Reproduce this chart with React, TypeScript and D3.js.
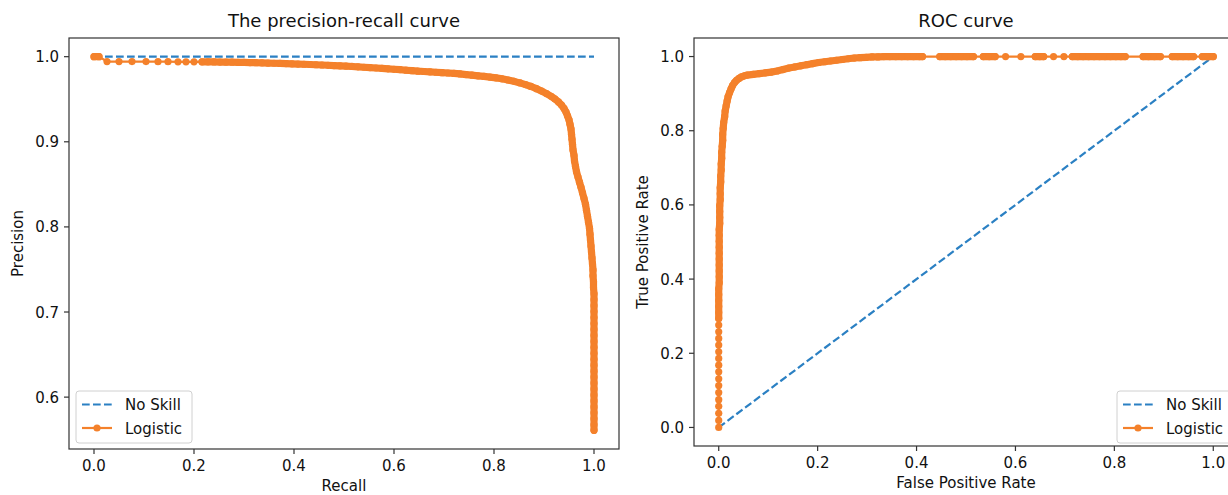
import React from 'react';
import * as d3 from 'd3';

// Precision-recall curve of the logistic model
const PR_RECALL = [
  0.000, 0.010, 0.026, 0.050, 0.076, 0.104, 0.128, 0.148, 0.168, 0.184, 0.200, 0.216,
  0.228, 0.240, 0.252, 0.264, 0.276, 0.288, 0.300, 0.312, 0.324, 0.336, 0.348, 0.360,
  0.372, 0.384, 0.396, 0.408, 0.420, 0.432, 0.444, 0.456, 0.468, 0.480, 0.492, 0.504,
  0.516, 0.528, 0.540, 0.552, 0.564, 0.576, 0.588, 0.600, 0.612, 0.624, 0.636, 0.648,
  0.660, 0.672, 0.684, 0.696, 0.708, 0.720, 0.732, 0.744, 0.756, 0.768, 0.780, 0.792,
  0.804, 0.816, 0.828, 0.840, 0.852, 0.863, 0.874, 0.885, 0.895, 0.905, 0.914, 0.922,
  0.929, 0.935, 0.940, 0.944, 0.947, 0.950, 0.952, 0.954, 0.955, 0.956, 0.957, 0.958,
  0.960, 0.961, 0.963, 0.965, 0.968, 0.971, 0.974, 0.977, 0.980, 0.983, 0.985, 0.987,
  0.989, 0.991, 0.992, 0.993, 0.994, 0.995, 0.996, 0.997, 0.998, 0.998, 0.999, 0.999,
  1.000, 1.000, 1.000, 1.000, 1.000, 1.000, 1.000, 1.000, 1.000, 1.000, 1.000, 1.000,
  1.000, 1.000, 1.000, 1.000, 1.000, 1.000, 1.000, 1.000, 1.000, 1.000, 1.000, 1.000,
];
const PR_PRECISION = [
  1.0000, 1.0000, 0.9943, 0.9943, 0.9942, 0.9942, 0.9941, 0.9941, 0.9940, 0.9940, 0.9940, 0.9939,
  0.9939, 0.9938, 0.9937, 0.9936, 0.9935, 0.9934, 0.9932, 0.9931, 0.9929, 0.9927, 0.9925, 0.9923,
  0.9921, 0.9918, 0.9916, 0.9913, 0.9911, 0.9908, 0.9905, 0.9902, 0.9899, 0.9896, 0.9893, 0.9889,
  0.9885, 0.9881, 0.9876, 0.9872, 0.9867, 0.9862, 0.9857, 0.9852, 0.9847, 0.9841, 0.9836, 0.9830,
  0.9826, 0.9822, 0.9817, 0.9812, 0.9808, 0.9803, 0.9797, 0.9790, 0.9783, 0.9775, 0.9768, 0.9760,
  0.9751, 0.9740, 0.9726, 0.9710, 0.9692, 0.9672, 0.9650, 0.9624, 0.9596, 0.9566, 0.9535, 0.9502,
  0.9468, 0.9432, 0.9392, 0.9350, 0.9305, 0.9258, 0.9205, 0.9150, 0.9090, 0.9030, 0.8970, 0.8905,
  0.8840, 0.8775, 0.8710, 0.8648, 0.8585, 0.8525, 0.8465, 0.8400, 0.8335, 0.8265, 0.8195, 0.8125,
  0.8055, 0.7985, 0.7915, 0.7845, 0.7775, 0.7705, 0.7635, 0.7565, 0.7495, 0.7425, 0.7355, 0.7285,
  0.7215, 0.7145, 0.7075, 0.7005, 0.6935, 0.6865, 0.6795, 0.6725, 0.6655, 0.6585, 0.6515, 0.6445,
  0.6375, 0.6305, 0.6235, 0.6165, 0.6095, 0.6025, 0.5955, 0.5885, 0.5815, 0.5745, 0.5675, 0.5610,
];

// ROC curve of the logistic model
const ROC_FPR = [
  0.000, 0.000, 0.000, 0.000, 0.000, 0.000, 0.000, 0.000, 0.000, 0.000, 0.000, 0.000,
  0.000, 0.000, 0.000, 0.000, 0.000,
  0.000, 0.000, 0.000, 0.000, 0.000, 0.001, 0.001, 0.001, 0.001, 0.001, 0.001, 0.001,
  0.001, 0.001, 0.001, 0.002, 0.002, 0.002, 0.002, 0.003, 0.003, 0.003, 0.004, 0.004,
  0.005, 0.005, 0.006, 0.006, 0.007, 0.008, 0.008, 0.009, 0.010, 0.012, 0.013, 0.015,
  0.017, 0.019, 0.022, 0.025, 0.028, 0.032, 0.036, 0.041, 0.046, 0.052, 0.058,
  0.070, 0.082, 0.094, 0.106, 0.118, 0.130, 0.142, 0.154, 0.166, 0.178, 0.190, 0.202,
  0.214, 0.226, 0.238, 0.250, 0.262, 0.274, 0.286, 0.298, 0.310, 0.322, 0.334, 0.346,
  0.358, 0.370, 0.382, 0.394, 0.406, 0.412,
  0.447, 0.458, 0.469, 0.480, 0.491, 0.502, 0.515,
  0.535, 0.547, 0.559,
  0.580,
  0.611,
  0.640, 0.649, 0.657,
  0.677,
  0.698,
  0.715, 0.726, 0.737, 0.748, 0.759, 0.770, 0.781, 0.792, 0.803, 0.813, 0.822,
  0.858, 0.869, 0.881, 0.893,
  0.917, 0.928, 0.939, 0.950, 0.960,
  0.978, 0.989, 1.000,
];
const ROC_TPR = [
  0.000, 0.019, 0.038, 0.057, 0.075, 0.094, 0.113, 0.131, 0.150, 0.168, 0.186, 0.204,
  0.222, 0.240, 0.258, 0.276, 0.294,
  0.310, 0.326, 0.342, 0.358, 0.374, 0.390, 0.406, 0.422, 0.438, 0.454, 0.470, 0.486,
  0.502, 0.518, 0.534, 0.550, 0.566, 0.582, 0.598, 0.614, 0.630, 0.646, 0.662, 0.678,
  0.694, 0.710, 0.726, 0.742, 0.758, 0.774, 0.790, 0.806, 0.822, 0.838, 0.853, 0.867,
  0.880, 0.892, 0.903, 0.913, 0.922, 0.930, 0.936, 0.941, 0.945, 0.948, 0.950,
  0.952, 0.954, 0.956, 0.958, 0.961, 0.965, 0.969, 0.972, 0.975, 0.978, 0.981, 0.984,
  0.986, 0.988, 0.990, 0.992, 0.994, 0.996, 0.997, 0.998, 0.999, 0.999, 1.000, 1.000,
  1.000, 1.000, 1.000, 1.000, 1.000, 1.000,
  1.000, 1.000, 1.000, 1.000, 1.000, 1.000, 1.000,
  1.000, 1.000, 1.000,
  1.000,
  1.000,
  1.000, 1.000, 1.000,
  1.000,
  1.000,
  1.000, 1.000, 1.000, 1.000, 1.000, 1.000, 1.000, 1.000, 1.000, 1.000, 1.000,
  1.000, 1.000, 1.000, 1.000,
  1.000, 1.000, 1.000, 1.000, 1.000,
  1.000, 1.000, 1.000,
];

// Baselines
const PR_NO_SKILL_X = [0, 1];
const PR_NO_SKILL_Y = [1, 1];
const ROC_NO_SKILL_X = [0, 1];
const ROC_NO_SKILL_Y = [0, 1];

const PR_X_TICKS = [0, 0.2, 0.4, 0.6, 0.8, 1.0];
const PR_Y_TICKS = [0.6, 0.7, 0.8, 0.9, 1.0];
const ROC_X_TICKS = [0, 0.2, 0.4, 0.6, 0.8, 1.0];
const ROC_Y_TICKS = [0, 0.2, 0.4, 0.6, 0.8, 1.0];

const SERIES_LABELS = ['No Skill', 'Logistic'];

const BLUE = '#2b80c3';
const ORANGE = '#f4812b';
const INK = '#111';
const FONT = '"DejaVu Sans", Verdana, sans-serif';
const MARKER_R = 3.6;
const MERGE_GAP = 6.5;
const TICK_FS = 15;
const TITLE_FS = 18;

type Pt = [number, number];

// Consecutive markers closer than the gap overlap into a solid band.
function overlappingRuns(pts: Pt[], gap: number): Pt[][] {
  const runs: Pt[][] = [];
  let cur: Pt[] = [pts[0]];
  for (let i = 1; i < pts.length; i++) {
    const d = Math.hypot(pts[i][0] - pts[i - 1][0], pts[i][1] - pts[i - 1][1]);
    if (d < gap) cur.push(pts[i]);
    else {
      if (cur.length > 1) runs.push(cur);
      cur = [pts[i]];
    }
  }
  if (cur.length > 1) runs.push(cur);
  return runs;
}

interface PanelProps {
  box: { left: number; right: number; top: number; bottom: number };
  xDomain: [number, number];
  yDomain: [number, number];
  xTicks: number[];
  yTicks: number[];
  title: string;
  xLabel: string;
  yLabel: string;
  yLabelX: number;
  skillX: number[];
  skillY: number[];
  modelX: number[];
  modelY: number[];
  legendX: number;
  clipId: string;
}

function Panel(p: PanelProps) {
  const { box } = p;
  const x = d3.scaleLinear().domain(p.xDomain).range([box.left, box.right]);
  const y = d3.scaleLinear().domain(p.yDomain).range([box.bottom, box.top]);
  const line = d3.line<Pt>().x((d) => d[0]).y((d) => d[1]);

  const skillPts: Pt[] = p.skillX.map((v, i) => [x(v), y(p.skillY[i])]);
  const modelPts: Pt[] = p.modelX.map((v, i) => [x(v), y(p.modelY[i])]);
  const runs = overlappingRuns(modelPts, MERGE_GAP);
  const cx = (box.left + box.right) / 2;
  const cy = (box.top + box.bottom) / 2;
  const tickLabelY = box.bottom + 22;

  const lg = { x: p.legendX, y: 391, w: 116, h: 52 };
  const rows = [lg.y + 13.5, lg.y + 37];

  return (
    <g>
      <defs>
        <clipPath id={p.clipId}>
          <rect x={box.left} y={box.top} width={box.right - box.left} height={box.bottom - box.top} />
        </clipPath>
      </defs>
      <rect x={box.left} y={box.top} width={box.right - box.left} height={box.bottom - box.top} fill="#fff" />
      <g clipPath={`url(#${p.clipId})`}>
        <path d={line(skillPts) ?? ''} fill="none" stroke={BLUE} strokeWidth={2.2} strokeDasharray="7.7 3.3" />
        <path d={line(modelPts) ?? ''} fill="none" stroke={ORANGE} strokeWidth={2.2} strokeLinejoin="round" />
        {runs.map((r, i) => (
          <path key={i} d={line(r) ?? ''} fill="none" stroke={ORANGE} strokeWidth={MARKER_R * 2}
            strokeLinejoin="round" strokeLinecap="round" />
        ))}
        {modelPts.map((d, i) => (
          <circle key={i} cx={d[0]} cy={d[1]} r={MARKER_R} fill={ORANGE} />
        ))}
      </g>
      <rect x={box.left} y={box.top} width={box.right - box.left} height={box.bottom - box.top}
        fill="none" stroke="#333" strokeWidth={1.2} />
      {p.xTicks.map((t) => (
        <g key={`x${t}`}>
          <line x1={x(t)} x2={x(t)} y1={box.bottom} y2={box.bottom + 5} stroke="#333" strokeWidth={1.2} />
          <text x={x(t)} y={tickLabelY} textAnchor="middle" fontSize={TICK_FS} fill={INK}>{t.toFixed(1)}</text>
        </g>
      ))}
      {p.yTicks.map((t) => (
        <g key={`y${t}`}>
          <line x1={box.left - 5} x2={box.left} y1={y(t)} y2={y(t)} stroke="#333" strokeWidth={1.2} />
          <text x={box.left - 10} y={y(t) + 5.5} textAnchor="end" fontSize={TICK_FS} fill={INK}>{t.toFixed(1)}</text>
        </g>
      ))}
      <text x={cx} y={box.top - 11} textAnchor="middle" fontSize={TITLE_FS} fill={INK}>{p.title}</text>
      <text x={cx} y={box.bottom + 41.5} textAnchor="middle" fontSize={TICK_FS} fill={INK}>{p.xLabel}</text>
      <text transform={`translate(${p.yLabelX},${cy}) rotate(-90)`} textAnchor="middle" fontSize={TICK_FS} fill={INK}>{p.yLabel}</text>

      <g>
        <rect x={lg.x} y={lg.y} width={lg.w} height={lg.h} rx={3} fill="#fff" fillOpacity={0.8}
          stroke="#d0d0d0" strokeWidth={1} />
        <line x1={lg.x + 6} x2={lg.x + 36} y1={rows[0]} y2={rows[0]} stroke={BLUE} strokeWidth={2.2}
          strokeDasharray="7.7 3.3" />
        <text x={lg.x + 49} y={rows[0] + 5.5} fontSize={TICK_FS} fill={INK}>{SERIES_LABELS[0]}</text>
        <line x1={lg.x + 6} x2={lg.x + 36} y1={rows[1]} y2={rows[1]} stroke={ORANGE} strokeWidth={2.2} />
        <circle cx={lg.x + 21} cy={rows[1]} r={MARKER_R} fill={ORANGE} />
        <text x={lg.x + 49} y={rows[1] + 5.5} fontSize={TICK_FS} fill={INK}>{SERIES_LABELS[1]}</text>
      </g>
    </g>
  );
}

function padded(lo: number, hi: number): [number, number] {
  const m = (hi - lo) * 0.05;
  return [lo - m, hi + m];
}

export default function App() {
  const prY = padded(d3.min(PR_PRECISION) ?? 0, d3.max(PR_PRECISION) ?? 1);
  return (
    <svg width={1228} height={495} style={{ position: 'absolute', left: 0, top: 0, background: '#fff' }}
      fontFamily={FONT}>
      <rect width={1228} height={495} fill="#fff" />
      <Panel
        box={{ left: 69, right: 619, top: 38, bottom: 449 }}
        xDomain={padded(0, 1)}
        yDomain={prY}
        xTicks={PR_X_TICKS}
        yTicks={PR_Y_TICKS}
        title="The precision-recall curve"
        xLabel="Recall"
        yLabel="Precision"
        yLabelX={23}
        skillX={PR_NO_SKILL_X}
        skillY={PR_NO_SKILL_Y}
        modelX={PR_RECALL}
        modelY={PR_PRECISION}
        legendX={76}
        clipId="clip-pr"
      />
      <Panel
        box={{ left: 694, right: 1238, top: 38, bottom: 446 }}
        xDomain={padded(0, 1)}
        yDomain={padded(0, 1)}
        xTicks={ROC_X_TICKS}
        yTicks={ROC_Y_TICKS}
        title="ROC curve"
        xLabel="False Positive Rate"
        yLabel="True Positive Rate"
        yLabelX={648}
        skillX={ROC_NO_SKILL_X}
        skillY={ROC_NO_SKILL_Y}
        modelX={ROC_FPR}
        modelY={ROC_TPR}
        legendX={1117}
        clipId="clip-roc"
      />
    </svg>
  );
}
